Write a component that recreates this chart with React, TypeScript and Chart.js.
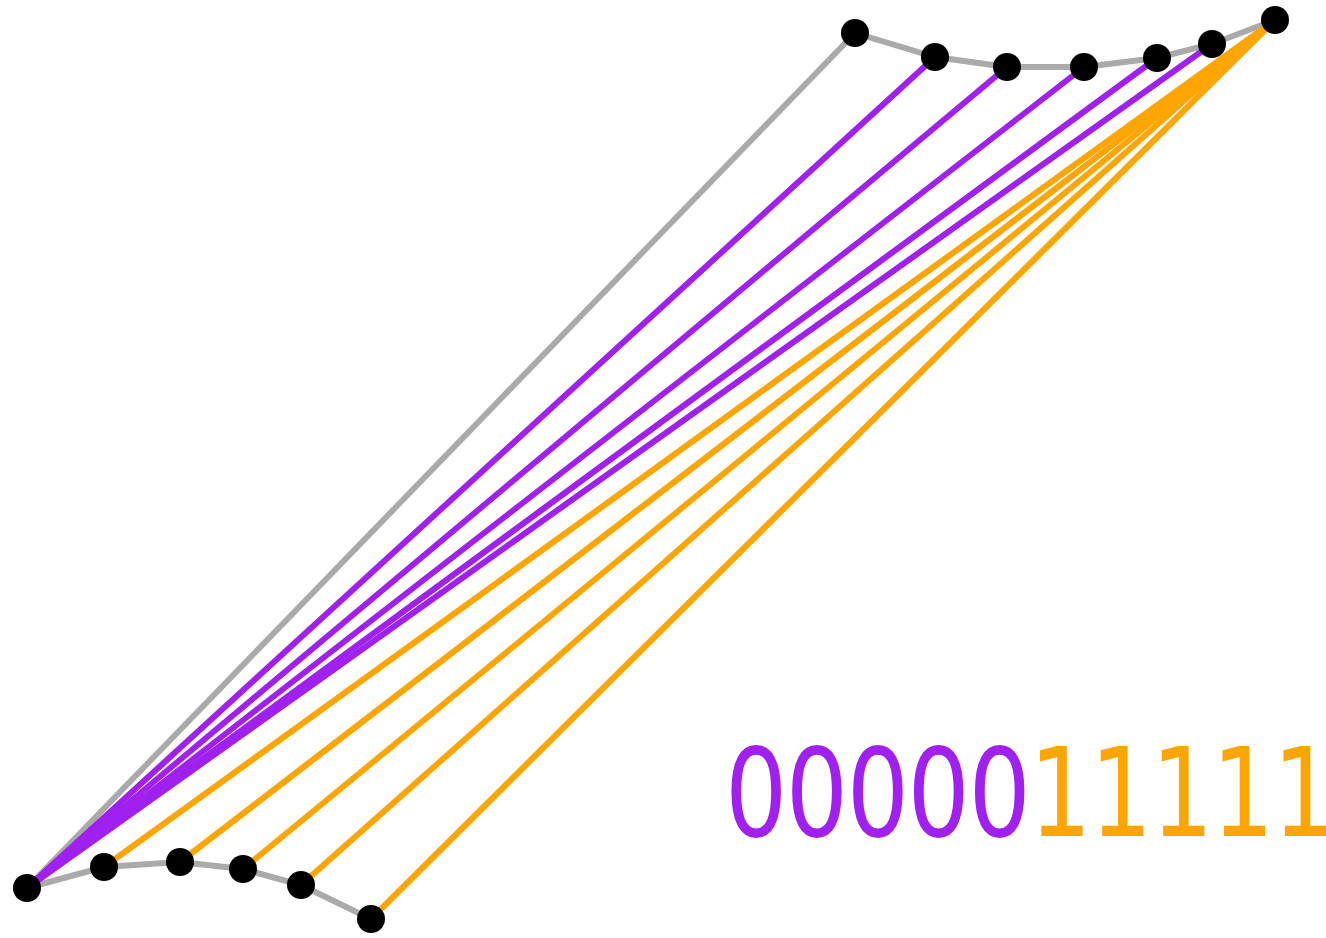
import React, { useEffect, useRef } from "react";
import { Chart, registerables } from "chart.js";

Chart.register(...registerables);

// Upper chain of nodes (x, y with y pointing up)
const topX = [855, 935, 1007, 1084, 1157, 1212, 1275];
const topY = [905, 881, 871, 871, 880, 894, 918];
// Lower chain of nodes
const bottomX = [27, 104, 180, 243, 301, 371];
const bottomY = [50, 71, 76, 69, 53, 19];
// Bit string shown in the corner
const bits = ["0", "0", "0", "0", "0", "1", "1", "1", "1", "1"];

const GRAY = "#aaaaaa";
const PURPLE = "#a020f0";
const ORANGE = "#ffa500";

const bitPlugin = {
  id: "bitLabel",
  afterDraw(chart: any) {
    const ctx = chart.ctx;
    ctx.save();
    ctx.font = '98px "DejaVu Sans"';
    ctx.textBaseline = "alphabetic";
    ctx.textAlign = "left";
    ctx.translate(0, 836);
    ctx.scale(1, 1.26);
    let x = 725;
    bits.forEach((b) => {
      ctx.fillStyle = b === "0" ? PURPLE : ORANGE;
      ctx.fillText(b, x, 0);
      x += ctx.measureText(b).width - 1.5;
    });
    ctx.restore();
  },
};

function lineDs(pts: { x: number; y: number }[], color: string) {
  return {
    type: "scatter" as const,
    data: pts,
    showLine: true,
    borderColor: color,
    backgroundColor: color,
    borderWidth: 6,
    pointRadius: 0,
    pointHoverRadius: 0,
    clip: false as const,
  };
}

export default function App() {
  const ref = useRef<HTMLCanvasElement>(null);
  useEffect(() => {
    document.body.style.margin = "0";
    const top = topX.map((x, i) => ({ x, y: topY[i] }));
    const bottom = bottomX.map((x, i) => ({ x, y: bottomY[i] }));
    const datasets: any[] = [];
    datasets.push({
      type: "scatter",
      data: [...top, ...bottom],
      pointRadius: 14,
      pointBackgroundColor: "#000",
      pointBorderWidth: 0,
      showLine: false,
      clip: false,
    });
    // orange links from last upper node to lower nodes
    for (let j = 1; j < bottom.length; j++) datasets.push(lineDs([top[top.length - 1], bottom[j]], ORANGE));
    // purple links from first lower node to upper nodes
    for (let i = 1; i < top.length - 1; i++) datasets.push(lineDs([bottom[0], top[i]], PURPLE));
    datasets.push(lineDs([bottom[0], top[0]], GRAY));
    datasets.push(lineDs(top, GRAY));
    datasets.push(lineDs(bottom, GRAY));

    const chart = new Chart(ref.current!, {
      type: "scatter",
      data: { datasets },
      options: {
        animation: false,
        responsive: false,
        layout: { padding: 0, autoPadding: false },
        plugins: { legend: { display: false }, tooltip: { enabled: false }, title: { display: false } },
        scales: {
          x: { type: "linear", min: 0, max: 1326, display: false },
          y: { type: "linear", min: 0, max: 938, display: false },
        },
      },
      plugins: [bitPlugin],
    });
    return () => chart.destroy();
  }, []);
  return (
    <div style={{ width: 1326, height: 938 }}>
      <canvas ref={ref} width={1326} height={938} style={{ display: "block" }} />
    </div>
  );
}
